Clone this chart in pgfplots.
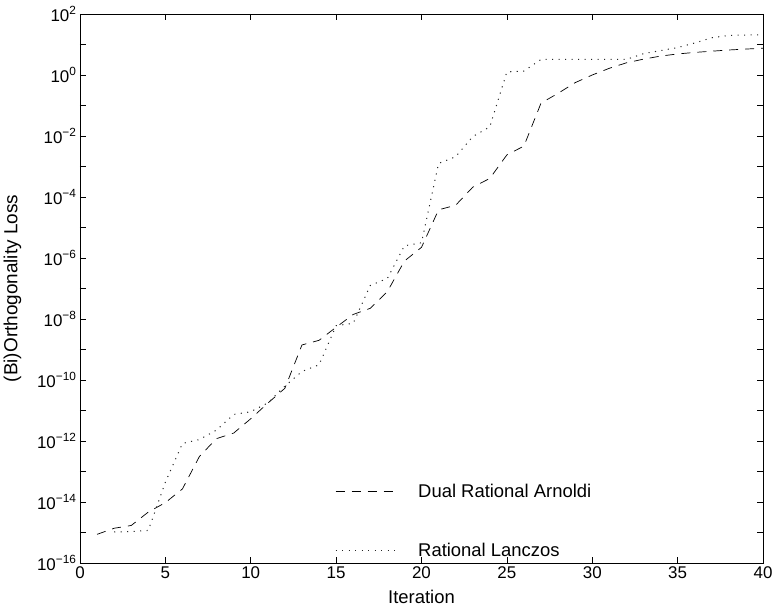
\documentclass[border=0pt]{standalone}
\usepackage{pgfplots}
\pgfplotsset{compat=1.18}
\usepackage{fontspec}
\setmainfont{Liberation Sans}
\begin{document}
\begin{tikzpicture}
\begin{axis}[
  at={(0,0)}, anchor=south west,
  scale only axis, width=683bp, height=549bp,
  ymode=log,
  xmin=0, xmax=40, ymin=1e-16, ymax=1e2,
  xtick={0,5,...,40},
  ytick={1e-16,1e-14,1e-12,1e-10,1e-8,1e-6,1e-4,1e-2,1e0,1e2},
  yticklabels={10\textsuperscript{−16},10\textsuperscript{−14},10\textsuperscript{−12},10\textsuperscript{−10},10\textsuperscript{−8},10\textsuperscript{−6},10\textsuperscript{−4},10\textsuperscript{−2},10\textsuperscript{0},10\textsuperscript{2}},
  minor ytick={1e-15,1e-13,1e-11,1e-9,1e-7,1e-5,1e-3,1e-1,1e1},
  /pgf/number format/assume math mode=true,
  tick align=inside, xtick pos=both, ytick pos=both,
  major tick length=6bp, minor tick length=6bp,
  every tick/.style={black, line width=0.6bp},
  axis line style={line width=0.7bp},
  tick label style={font=\fontsize{17}{19}\selectfont},
  xlabel={Iteration}, ylabel={(Bi)Orthogonality Loss},
  label style={font=\fontsize{18.5}{20}\selectfont},
  ylabel style={font=\fontsize{19}{21}\selectfont},
  xlabel style={at={(axis description cs:0.5,0)}, anchor=center, yshift=-34bp},
  ylabel style={at={(axis description cs:-0.099,0.5)}, anchor=center},
  legend cell align=left,
  legend image code/.code={\draw[#1] (0bp,0bp) -- (60bp,0bp);},
  legend style={at={(axis description cs:0.369,0.0765)}, anchor=west, draw=none, fill=none,
    font=\fontsize{18.5}{20}\selectfont, row sep=40bp,
    /tikz/every odd column/.append style={column sep=20bp}},
]
\addplot[black, line width=0.7bp, dash pattern=on 9bp off 7bp] coordinates {
(1,8.71e-16) (2,1.38e-15) (3,1.70e-15) (4,4.68e-15) (5,9.55e-15)
(6,2.69e-14) (7,3.16e-13) (8,1.20e-12) (9,1.82e-12) (10,5.37e-12)
(11,1.74e-11) (12,5.37e-11) (13,1.41e-9) (14,2.0e-9) (15,5.37e-9)
(16,1.41e-8) (17,2.24e-8) (18,7.94e-8) (19,7.94e-7) (20,2.24e-6)
(21,3.80e-5) (22,5.37e-5) (23,2.09e-4) (24,4.07e-4) (25,2.40e-3)
(26,4.68e-3) (27,0.120) (28,0.251) (29,0.562) (30,1.0)
(31,1.66) (32,2.51) (33,3.31) (34,4.17) (35,4.90)
(36,5.50) (37,6.03) (38,6.61) (39,7.08) (40,7.59)
};
\addlegendentry{Dual Rational Arnoldi}
\addplot[black!85, line width=1bp, dash pattern=on 1.1bp off 5.4bp] coordinates {
(2,1.05e-15) (3,1.07e-15) (4,1.17e-15) (5,4.47e-14)
(6,8.32e-13) (7,1.12e-12) (8,2.29e-12) (9,7.41e-12) (10,9.12e-12)
(11,1.78e-11) (12,6.31e-11) (13,1.91e-10) (14,3.16e-10) (15,6.03e-9)
(16,7.24e-9) (17,1.26e-7) (18,2.14e-7) (19,2.51e-6) (20,3.16e-6)
(21,1.26e-3) (22,2.09e-3) (23,9.55e-3) (24,2.0e-2) (25,1.26)
(26,1.35) (27,3.24) (28,3.24) (29,3.24) (30,3.24)
(31,3.24) (32,3.24) (33,5.01) (34,6.31) (35,7.94)
(36,11.2) (37,16.6) (38,20.0) (39,20.4) (40,20.9)
};
\addlegendentry{Rational Lanczos}
\end{axis}
\pgfresetboundingbox
\path (-80bp,-44bp) rectangle (696bp,563bp);
\end{tikzpicture}
\end{document}
